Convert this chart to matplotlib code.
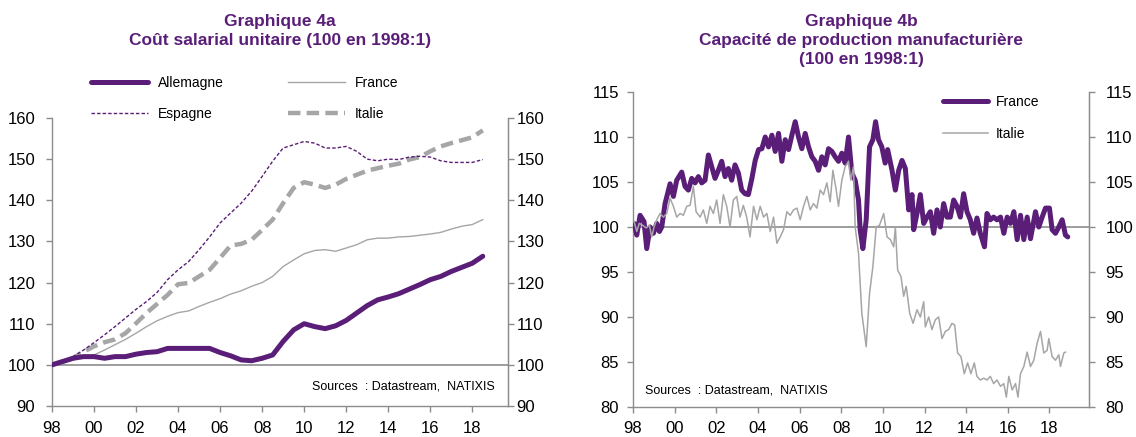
import matplotlib
matplotlib.use('Agg')
import matplotlib.pyplot as plt
import numpy as np

plt.rcParams['font.family'] = ['Liberation Sans', 'DejaVu Sans']

PURPLE = '#5A1E78'
GRAY = '#A6A6A6'
AXIS_GRAY = '#8C8C8C'

# Graphique 4a : coût salarial unitaire (points semestriels)
years_a = np.arange(1998, 2018.51, 0.5)
allemagne = [100.0, 100.8, 101.6, 102.0, 102.0, 101.6, 102.0, 102.0, 102.6, 103.0,
             103.2, 104.0, 104.0, 104.0, 104.0, 104.0, 103.0, 102.2, 101.2, 101.0,
             101.6, 102.4, 105.7, 108.5, 110.0, 109.3, 108.8, 109.5, 110.8, 112.6,
             114.4, 115.8, 116.5, 117.3, 118.4, 119.5, 120.7, 121.5, 122.7, 123.7,
             124.7, 126.4]
france_a = [100.0, 100.4, 101.2, 101.9, 102.4, 103.6, 104.9, 106.2, 107.7, 109.3,
            110.7, 111.8, 112.7, 113.1, 114.2, 115.2, 116.1, 117.2, 118.0, 119.1,
            120.0, 121.5, 123.9, 125.5, 127.0, 127.8, 128.0, 127.6, 128.4, 129.2,
            130.4, 130.8, 130.8, 131.1, 131.2, 131.5, 131.8, 132.2, 133.0, 133.7,
            134.1, 135.3]
espagne = [100.0, 100.8, 102.0, 103.6, 105.4, 107.3, 109.3, 111.4, 113.5, 115.4,
           117.6, 120.7, 123.1, 125.1, 128.0, 131.1, 134.5, 136.9, 139.3, 142.2,
           145.8, 149.5, 152.7, 153.5, 154.3, 153.9, 152.7, 152.7, 153.1, 151.9,
           150.0, 149.6, 150.0, 149.9, 150.5, 150.7, 150.5, 149.6, 149.2, 149.2,
           149.2, 149.9]
italie_a = [100.0, 100.8, 101.6, 103.2, 104.5, 105.5, 106.2, 107.7, 110.1, 112.6,
            114.8, 117.0, 119.6, 119.9, 121.5, 123.1, 126.0, 129.0, 129.4, 130.4,
            132.8, 135.3, 139.3, 143.0, 144.4, 143.8, 143.0, 143.8, 145.2, 146.2,
            147.2, 147.8, 148.4, 148.9, 149.9, 150.5, 151.9, 153.1, 153.9, 154.6,
            155.3, 157.0]

# Graphique 4b : capacité de production manufacturière
years_fr_b = [1998.05, 1998.18, 1998.34, 1998.53, 1998.66, 1998.82, 1998.98, 1999.14, 1999.27, 1999.38,
              1999.54, 1999.70, 1999.78, 1999.94, 2000.10, 2000.34, 2000.50, 2000.66, 2000.82, 2000.98,
              2001.14, 2001.30, 2001.46, 2001.62, 2001.78, 2001.94, 2002.10, 2002.26, 2002.42, 2002.58,
              2002.74, 2002.90, 2003.06, 2003.22, 2003.38, 2003.54, 2003.71, 2003.87, 2004.03, 2004.19,
              2004.35, 2004.51, 2004.67, 2004.83, 2004.99, 2005.15, 2005.31, 2005.47, 2005.63, 2005.79,
              2005.95, 2006.11, 2006.27, 2006.43, 2006.59, 2006.75, 2006.91, 2007.07, 2007.23, 2007.39,
              2007.55, 2007.71, 2007.87, 2008.03, 2008.19, 2008.35, 2008.51, 2008.67, 2008.83, 2008.91,
              2009.04, 2009.20, 2009.36, 2009.52, 2009.65, 2009.79, 2009.95, 2010.11, 2010.23, 2010.44,
              2010.60, 2010.76, 2010.92, 2011.08, 2011.24, 2011.40, 2011.48, 2011.64, 2011.80, 2011.96,
              2012.12, 2012.28, 2012.44, 2012.60, 2012.76, 2012.92, 2013.08, 2013.24, 2013.40, 2013.56,
              2013.72, 2013.88, 2014.04, 2014.20, 2014.36, 2014.52, 2014.68, 2014.88, 2015.00, 2015.16,
              2015.32, 2015.48, 2015.65, 2015.81, 2015.97, 2016.13, 2016.29, 2016.45, 2016.61, 2016.77,
              2016.93, 2017.09, 2017.33, 2017.49, 2017.65, 2017.81, 2018.00, 2018.13, 2018.29, 2018.45,
              2018.61, 2018.77, 2018.88]
france_b = [100.4, 99.1, 101.3, 100.6, 97.6, 100.0, 99.3, 100.4, 99.5, 100.0,
            102.6, 104.1, 104.8, 103.4, 105.2, 106.1, 104.5, 104.1, 105.4, 104.9,
            105.6, 104.9, 105.2, 108.0, 106.7, 105.4, 106.3, 107.3, 105.6, 106.5,
            105.2, 106.9, 106.0, 104.1, 103.7, 103.6, 105.4, 107.4, 108.6, 108.7,
            110.0, 108.9, 110.2, 108.4, 110.4, 107.3, 109.7, 108.6, 110.2, 111.7,
            110.0, 108.7, 110.4, 108.9, 107.8, 107.3, 106.3, 107.8, 106.9, 108.7,
            108.4, 107.8, 107.3, 108.2, 107.1, 110.0, 106.0, 105.2, 103.0, 99.7,
            97.6, 100.8, 108.9, 109.7, 111.7, 109.7, 108.9, 107.1, 108.6, 106.3,
            104.1, 106.3, 107.4, 106.5, 101.9, 103.6, 99.7, 101.5, 103.6, 100.4,
            101.1, 101.7, 99.3, 101.9, 100.0, 102.6, 101.1, 101.1, 103.0, 102.3,
            101.1, 103.7, 101.7, 100.8, 99.3, 101.0, 99.3, 97.8, 101.5, 100.8,
            101.1, 100.8, 101.1, 99.3, 101.1, 100.4, 101.7, 98.6, 101.3, 98.6,
            101.1, 98.7, 101.7, 100.0, 101.1, 102.1, 102.1, 99.7, 99.3, 100.0,
            100.8, 99.1, 98.9]

years_it_b = [1998.05, 1998.18, 1998.30, 1998.46, 1998.63, 1998.79, 1998.90, 1999.01, 1999.14, 1999.30,
              1999.46, 1999.62, 1999.78, 1999.94, 2000.10, 2000.26, 2000.42, 2000.58, 2000.74, 2000.90,
              2001.03, 2001.22, 2001.38, 2001.54, 2001.70, 2001.86, 2002.02, 2002.18, 2002.34, 2002.50,
              2002.66, 2002.82, 2002.98, 2003.14, 2003.30, 2003.46, 2003.62, 2003.79, 2003.95, 2004.11,
              2004.27, 2004.43, 2004.59, 2004.75, 2004.91, 2005.07, 2005.23, 2005.39, 2005.55, 2005.71,
              2005.87, 2006.03, 2006.19, 2006.35, 2006.51, 2006.67, 2006.83, 2006.99, 2007.15, 2007.31,
              2007.47, 2007.60, 2007.76, 2007.87, 2008.03, 2008.19, 2008.35, 2008.46, 2008.59, 2008.67,
              2008.83, 2008.99, 2009.20, 2009.36, 2009.52, 2009.68, 2009.84, 2010.04, 2010.20, 2010.36,
              2010.52, 2010.60, 2010.71, 2010.87, 2011.00, 2011.12, 2011.29, 2011.45, 2011.64, 2011.80,
              2011.96, 2012.04, 2012.20, 2012.36, 2012.52, 2012.68, 2012.84, 2013.00, 2013.16, 2013.32,
              2013.45, 2013.59, 2013.75, 2013.91, 2014.07, 2014.23, 2014.39, 2014.52, 2014.68, 2014.84,
              2015.00, 2015.16, 2015.32, 2015.48, 2015.65, 2015.81, 2015.93, 2016.05, 2016.21, 2016.37,
              2016.49, 2016.61, 2016.77, 2016.93, 2017.09, 2017.25, 2017.41, 2017.57, 2017.73, 2017.89,
              2017.97, 2018.13, 2018.29, 2018.45, 2018.53, 2018.69, 2018.77]
italie_b = [100.6, 99.5, 100.4, 100.2, 99.9, 100.2, 98.9, 100.0, 100.8, 101.5,
            101.1, 101.5, 103.2, 102.3, 101.1, 101.5, 101.3, 102.3, 102.4, 104.5,
            101.7, 101.1, 101.9, 100.4, 102.3, 101.5, 103.0, 100.4, 103.6, 102.3,
            100.0, 103.0, 103.4, 101.1, 102.4, 101.1, 98.9, 102.3, 100.8, 102.3,
            101.1, 101.5, 99.5, 101.1, 98.2, 98.9, 99.7, 101.7, 101.3, 101.9,
            102.1, 100.8, 102.3, 103.4, 101.9, 102.6, 102.1, 104.1, 103.6, 104.9,
            102.8, 106.3, 104.1, 102.3, 105.2, 106.7, 107.3, 105.2, 106.7, 100.0,
            97.1, 90.4, 86.7, 92.6, 95.6, 100.0, 100.2, 101.5, 98.9, 98.6,
            97.8, 100.0, 95.2, 94.5, 92.3, 93.4, 90.4, 89.3, 90.8, 90.0,
            91.7, 88.9, 90.0, 88.6, 89.7, 90.0, 87.6, 88.4, 88.6, 89.3,
            89.1, 86.0, 85.6, 83.7, 84.9, 83.7, 84.9, 83.4, 83.0, 83.2,
            83.0, 83.4, 82.6, 83.0, 82.3, 82.6, 81.1, 83.4, 81.9, 82.6,
            81.1, 83.7, 84.5, 86.1, 84.5, 85.2, 87.1, 88.4, 86.0, 86.3,
            87.6, 85.6, 85.2, 85.8, 84.5, 86.0, 86.1]

tick_years = list(range(1998, 2019, 2))
tick_labels = [f'{y % 100:02d}' for y in tick_years]

W, H = 1136, 437
fig = plt.figure(figsize=(W / 100, H / 100), dpi=100)


def px_axes(x0, y0, x1, y1):
    return fig.add_axes([x0 / W, 1 - y1 / H, (x1 - x0) / W, (y1 - y0) / H])


def style(ax, ymin, ymax, step, xmax, lpad, rpad, xpad):
    ax.set_xlim(1998, xmax)
    ax.set_ylim(ymin, ymax)
    ticks = np.arange(ymin, ymax + 0.1, step)
    ax.set_yticks(ticks)
    ax.set_xticks(tick_years)
    ax.set_xticklabels(tick_labels)
    ax.spines['top'].set_visible(False)
    for s in ['left', 'right', 'bottom']:
        ax.spines[s].set_color(AXIS_GRAY)
        ax.spines[s].set_linewidth(1.0)
    ax.tick_params(axis='y', direction='out', length=4, width=1, color=AXIS_GRAY,
                   labelsize=12, pad=lpad)
    ax.tick_params(axis='x', direction='out', length=4, width=1, color=AXIS_GRAY,
                   labelsize=12, pad=xpad)
    ax.axhline(100, color=AXIS_GRAY, lw=1.2, zorder=1)
    ax2 = ax.twinx()
    ax2.set_ylim(ymin, ymax)
    ax2.set_yticks(ticks)
    for s in ['left', 'top', 'bottom']:
        ax2.spines[s].set_visible(False)
    ax2.spines['right'].set_color(AXIS_GRAY)
    ax2.tick_params(axis='y', direction='out', length=4, width=1, color=AXIS_GRAY,
                    labelsize=12, pad=rpad)
    ax.set_zorder(ax2.get_zorder() + 1)
    ax.patch.set_visible(False)


# ---- Graphique 4a ----
ax_a = px_axes(52, 118, 508, 406)
style(ax_a, 90, 160, 10, 2019.7, lpad=8, rpad=2, xpad=7)
ax_a.plot(years_a, italie_a, color=GRAY, lw=3.2, dashes=(2.8, 1.4), label='Italie', zorder=3)
ax_a.plot(years_a, france_a, color=GRAY, lw=1.0, label='France', zorder=3)
ax_a.plot(years_a, espagne, color=PURPLE, lw=1.0, dashes=(2.5, 1.5), label='Espagne', zorder=4)
ax_a.plot(years_a, allemagne, color=PURPLE, lw=3.6, label='Allemagne', zorder=5,
          solid_capstyle='round')
h, l = ax_a.get_legend_handles_labels()
order = [l.index(n) for n in ['Allemagne', 'Espagne', 'France', 'Italie']]
ax_a.legend([h[i] for i in order], [l[i] for i in order], ncol=2, loc='upper left',
            bbox_to_anchor=((91 - 52) / 456, 1 + (118 - 76) / 288), frameon=False,
            fontsize=10, borderpad=0, borderaxespad=0, handlelength=4.1,
            handletextpad=0.72, columnspacing=4.6, labelspacing=1.2)
ax_a.text(0.57, 0.066, 'Sources  : Datastream,  NATIXIS', transform=ax_a.transAxes,
          fontsize=9, va='center', ha='left')
fig.text(280 / W, 1 - 14 / H, 'Graphique 4a\nCoût salarial unitaire (100 en 1998:1)',
         ha='center', va='top', fontsize=12.5, fontweight='bold', color=PURPLE,
         linespacing=1.32)

# ---- Graphique 4b ----
ax_b = px_axes(633, 92, 1089, 407)
style(ax_b, 80, 115, 5, 2019.9, lpad=6, rpad=8, xpad=6)
ax_b.plot(years_fr_b, france_b, color=PURPLE, lw=3.6, label='France', zorder=3,
          solid_joinstyle='round', solid_capstyle='round')
ax_b.plot(years_it_b, italie_b, color=GRAY, lw=1.1, label='Italie', zorder=4)
ax_b.legend(loc='upper left', bbox_to_anchor=((943 - 633) / 456, 0.99), frameon=False,
            fontsize=10, borderpad=0, borderaxespad=0, handlelength=3.24,
            handletextpad=0.58, labelspacing=1.25)
ax_b.text(0.026, 0.051, 'Sources  : Datastream,  NATIXIS', transform=ax_b.transAxes,
          fontsize=9, va='center', ha='left')
fig.text(861 / W, 1 - 14 / H,
         'Graphique 4b\nCapacité de production manufacturière\n(100 en 1998:1)',
         ha='center', va='top', fontsize=12.5, fontweight='bold', color=PURPLE,
         linespacing=1.32)

fig.savefig('out.png', dpi=100)
